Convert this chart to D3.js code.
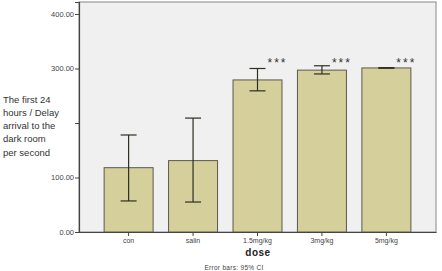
<!DOCTYPE html>
<html>
<head>
<meta charset="utf-8">
<script src="https://cdn.jsdelivr.net/npm/d3@7"></script>
<style>
  body { margin: 0; background: #fff; }
  svg { display: block; font-family: "Liberation Sans", Arial, sans-serif; }
</style>
</head>
<body>
<div id="chart"></div>
<script>
// data
const doses = ['con', 'salin', '1.5mg/kg', '3mg/kg', '5mg/kg'];
const means = [118, 131, 279, 297, 301];
const ciLow = [57, 55, 259, 290, 300.5];
const ciHigh = [178, 209, 300, 305, 301.5];
const stars = ['', '', '***', '***', '***'];
const yTicks = [0, 100, 200, 300, 400];
const yTickLabels = ['0.00', '100.00', '', '300.00', '400.00'];
const yTitle = ['The first 24', 'hours / Delay', 'arrival to the', 'dark room', 'per second'];

const width = 442, height = 271;
const plot = { left: 79, right: 436, top: 2, bottom: 232 };

const svg = d3.select('#chart').append('svg')
  .attr('width', width)
  .attr('height', height);

const x = d3.scaleBand()
  .domain(doses)
  .range([plot.left, plot.right])
  .paddingInner(0.24)
  .paddingOuter(0.39);

const y = d3.scaleLinear()
  .domain([0, 422])
  .range([plot.bottom, plot.top]);

// plot background + frame
svg.append('rect')
  .attr('x', plot.left)
  .attr('y', plot.top)
  .attr('width', plot.right - plot.left)
  .attr('height', plot.bottom - plot.top)
  .attr('fill', '#f0f0f0')
  .attr('stroke', '#9a9a9a')
  .attr('stroke-width', 1.2);

const rows = doses.map((d, i) => ({ dose: d, mean: means[i], lo: ciLow[i], hi: ciHigh[i], star: stars[i] }));

svg.append('g').selectAll('rect')
  .data(rows)
  .enter()
  .append('rect')
  .attr('x', d => x(d.dose))
  .attr('y', d => y(d.mean))
  .attr('width', x.bandwidth())
  .attr('height', d => y(0) - y(d.mean))
  .attr('fill', '#d5d09b')
  .attr('stroke', '#5a5a4a')
  .attr('stroke-width', 1);

// error bars
const err = svg.append('g')
  .attr('stroke', '#2e2e22')
  .attr('stroke-width', 1.2);
const cap = 8;
rows.forEach(d => {
  const cx = x(d.dose) + x.bandwidth() / 2;
  err.append('line').attr('x1', cx).attr('x2', cx).attr('y1', y(d.lo)).attr('y2', y(d.hi));
  err.append('line').attr('x1', cx - cap).attr('x2', cx + cap).attr('y1', y(d.hi)).attr('y2', y(d.hi));
  err.append('line').attr('x1', cx - cap).attr('x2', cx + cap).attr('y1', y(d.lo)).attr('y2', y(d.lo));
});

// significance stars
svg.append('g').selectAll('text')
  .data(rows.filter(d => d.star))
  .enter()
  .append('text')
  .attr('x', d => x(d.dose) + x.bandwidth() / 2 + 20)
  .attr('y', y(302) + 0)
  .attr('text-anchor', 'middle')
  .attr('font-size', '12px')
  .attr('letter-spacing', '2px')
  .attr('fill', '#333')
  .text(d => d.star);

// axes
const yAxis = svg.append('g')
  .attr('transform', `translate(${plot.left},0)`)
  .call(d3.axisLeft(y).tickValues(yTicks).tickSize(4).tickFormat((d, i) => yTickLabels[i]));
yAxis.select('.domain').attr('stroke', '#444').attr('stroke-width', 1.2);
yAxis.selectAll('.tick line').attr('stroke', '#444');
yAxis.selectAll('.tick text')
  .attr('font-size', '7.5px')
  .attr('font-family', '"Liberation Sans", Arial, sans-serif')
  .attr('fill', '#444')
  .attr('x', -5);

const xAxis = svg.append('g')
  .attr('transform', `translate(0,${plot.bottom})`)
  .call(d3.axisBottom(x).tickSize(4).tickSizeOuter(0));
xAxis.select('.domain').attr('stroke', '#444').attr('stroke-width', 1.2);
xAxis.selectAll('.tick line').attr('stroke', '#444');
xAxis.selectAll('.tick text')
  .attr('font-size', '7px')
  .attr('font-family', '"Liberation Sans", Arial, sans-serif')
  .attr('fill', '#444')
  .attr('dy', '0.6em');

// axis titles
svg.append('text')
  .attr('x', 258)
  .attr('y', 256)
  .attr('text-anchor', 'middle')
  .attr('font-size', '10px')
  .attr('font-weight', 'bold')
  .attr('letter-spacing', '0.5px')
  .attr('fill', '#222')
  .text('dose');

svg.append('text')
  .attr('x', 234)
  .attr('y', 270)
  .attr('text-anchor', 'middle')
  .attr('font-size', '6.5px')
  .attr('letter-spacing', '0.3px')
  .attr('fill', '#444')
  .text('Error bars: 95% CI');

svg.append('g').selectAll('text')
  .data(yTitle)
  .enter()
  .append('text')
  .attr('x', 3)
  .attr('y', (d, i) => 102.5 + i * 13.3)
  .attr('font-size', '9.5px')
  .attr('fill', '#333')
  .text(d => d);
</script>
</body>
</html>
